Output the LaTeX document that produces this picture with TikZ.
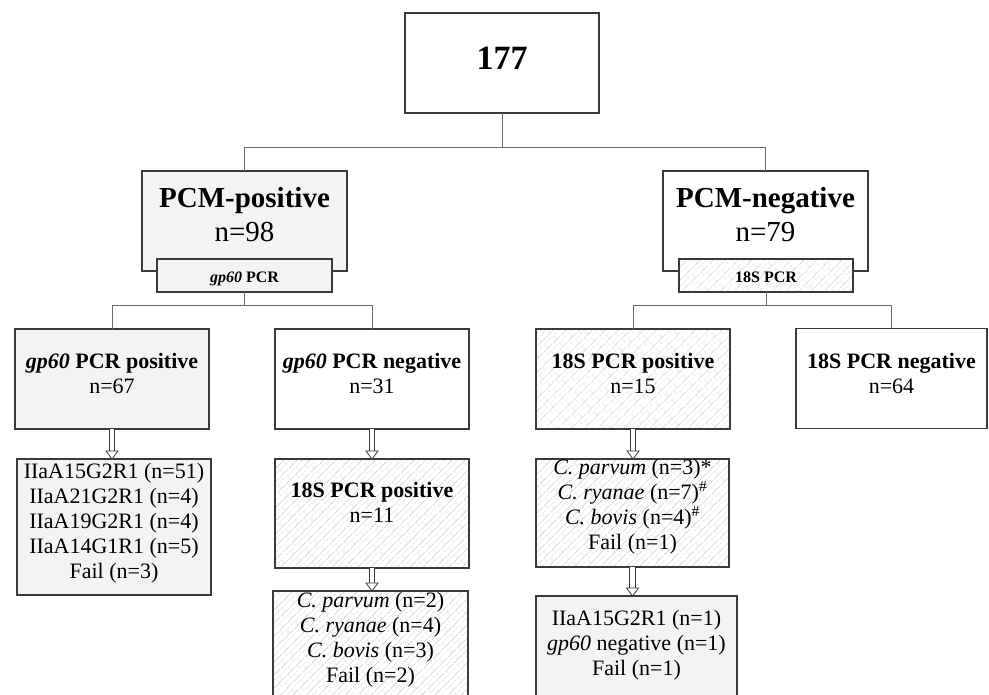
\documentclass[tikz,border=0pt]{standalone}
\usepackage{fontspec}
\setmainfont{Liberation Serif}
\usetikzlibrary{calc,patterns.meta}
\definecolor{boxc}{HTML}{3A3A3A}
\definecolor{linec}{HTML}{6A6A6A}
\definecolor{lgray}{HTML}{F3F3F3}
\definecolor{patc}{HTML}{C4C4C4}
\tikzdeclarepattern{
  name=diagbricks,
  type=uncolored,
  bounding box={(0pt,0pt) and (12pt,10pt)},
  tile size={(12pt,10pt)},
  tile transformation={rotate=45},
  code={
    \pgfsetlinewidth{0.6pt}
    \pgfpathmoveto{\pgfpoint{0pt}{0pt}}\pgfpathlineto{\pgfpoint{12pt}{0pt}}
    \pgfpathmoveto{\pgfpoint{0pt}{5pt}}\pgfpathlineto{\pgfpoint{12pt}{5pt}}
    \pgfpathmoveto{\pgfpoint{0pt}{0pt}}\pgfpathlineto{\pgfpoint{0pt}{5pt}}
    \pgfpathmoveto{\pgfpoint{6pt}{5pt}}\pgfpathlineto{\pgfpoint{6pt}{10pt}}
    \pgfusepath{stroke}
  }
}
\tikzset{
  box/.style={draw=boxc, line width=1.3pt, inner sep=0pt, outer sep=0pt},
  grayfill/.style={box, fill=lgray},
  whitefill/.style={box, fill=white},
  hatchfill/.style={box, preaction={fill=white}, pattern=diagbricks, pattern color=patc},
  conn/.style={draw=linec, line width=1pt},
  harrow/.style={draw=boxc, double=white, double distance=4.5pt, line width=0.8pt},
  harrowhead/.style={draw=boxc, fill=white, line width=0.8pt, line join=miter},
  txt/.style={anchor=base, align=center, inner sep=0pt},
  big/.style={font=\fontsize{29}{34}\selectfont},
  mid/.style={font=\fontsize{22}{24.8}\selectfont},
  small/.style={font=\fontsize{16}{18}\selectfont\bfseries},
}
\newcommand\hollowarr[2]{%
  \draw[harrow] (#1.south) -- ($(#1.south |- #2.north)+(0,-7.5)$);
  \draw[harrowhead] ($(#1.south |- #2.north)+(-6,-8)$) -- (#1.south |- #2.north) -- ($(#1.south |- #2.north)+(6,-8)$) -- cycle;
}
\begin{document}
\begin{tikzpicture}[x=1pt,y=-1pt]
\clip (0,0) rectangle (989,695);
\useasboundingbox (0,0) rectangle (989,695);
\fill[white] (0,0) rectangle (989,695);

% level 0
\node[whitefill, minimum width=194, minimum height=100] (top) at (502,63) {};
\node[txt, font=\fontsize{34}{38}\selectfont\bfseries] (ttop) at (502,70) {177};

% level 1
\node[grayfill, minimum width=205, minimum height=100] (pcmpos) at (244.5,221) {};
\node[whitefill, minimum width=205, minimum height=100] (pcmneg) at (765.5,221) {};
\node[txt, big] (tpcmpos) at (244.5,242) {\textbf{PCM-positive}\\n=98};
\node[txt, big] (tpcmneg) at (765.5,242) {\textbf{PCM-negative}\\n=79};
\node[grayfill, minimum width=175, minimum height=33] (gpbox) at (244.5,275.5) {};
\node[hatchfill, minimum width=174, minimum height=33] (sbox) at (766,275.5) {};
\node[txt, small] (tgpbox) at (244.5,283) {\textit{gp60} PCR};
\node[txt, small] (tsbox) at (766,283) {18S PCR};

\draw[conn] (top.south) -- ++(0,35) -| (pcmpos.north);
\draw[conn] (top.south) -- ++(0,35) -| (pcmneg.north);

% level 2
\node[grayfill, minimum width=194, minimum height=100] (gppos) at (112,379) {};
\node[whitefill, minimum width=194, minimum height=100] (gpneg) at (372,379) {};
\node[hatchfill, minimum width=194, minimum height=100] (spos) at (633,379) {};
\node[whitefill, minimum width=191, minimum height=100] (sneg) at (891.5,378.5) {};
\node[txt, mid] (tgppos) at (112,393) {\textbf{\textit{gp60} PCR positive}\\n=67};
\node[txt, mid] (tgpneg) at (372,393) {\textbf{\textit{gp60} PCR negative}\\n=31};
\node[txt, mid] (tspos) at (633,393) {\textbf{18S PCR positive}\\n=15};
\node[txt, mid] (tsneg) at (891.5,393) {\textbf{18S PCR negative}\\n=64};

\draw[conn] (gpbox.south) -- ++(0,14) -| (gppos.north);
\draw[conn] (gpbox.south) -- ++(0,14) -| (gpneg.north);
\draw[conn] (sbox.south) -- ++(0,14) -| (spos.north);
\draw[conn] (sbox.south) -- ++(0,14) -| (sneg.north);

% level 3
\node[grayfill, minimum width=194, minimum height=136] (geno) at (114,527) {};
\node[txt, mid] (tgeno) at (114,578) {IIaA15G2R1 (n=51)\\IIaA21G2R1 (n=4)\\IIaA19G2R1 (n=4)\\IIaA14G1R1 (n=5)\\Fail (n=3)};
\node[hatchfill, minimum width=194, minimum height=109] (mids) at (372,513.5) {};
\node[txt, mid] (tmids) at (372,522) {\textbf{18S PCR positive}\\n=11};
\node[hatchfill, minimum width=193, minimum height=108] (rsp) at (632.5,513) {};
\node[txt, mid] (trsp) at (632.5,549) {\textit{C. parvum} (n=3)*\\\textit{C. ryanae} (n=7)\textsuperscript{\#}\\\textit{C. bovis} (n=4)\textsuperscript{\#}\\Fail (n=1)};

% level 4
\node[hatchfill, minimum width=195, minimum height=119] (midsp) at (370.5,650.5) {};
\node[txt, mid] (tmidsp) at (370.5,682) {\textit{C. parvum} (n=2)\\\textit{C. ryanae} (n=4)\\\textit{C. bovis} (n=3)\\Fail (n=2)};
\node[grayfill, minimum width=201, minimum height=114] (rfin) at (636.5,653) {};
\node[txt, mid] (trfin) at (636.5,675) {IIaA15G2R1 (n=1)\\\textit{gp60} negative (n=1)\\Fail (n=1)};

% hollow arrows
\hollowarr{gppos}{geno}
\hollowarr{gpneg}{mids}
\hollowarr{mids}{midsp}
\hollowarr{spos}{rsp}
\hollowarr{rsp}{rfin}
\end{tikzpicture}
\end{document}
